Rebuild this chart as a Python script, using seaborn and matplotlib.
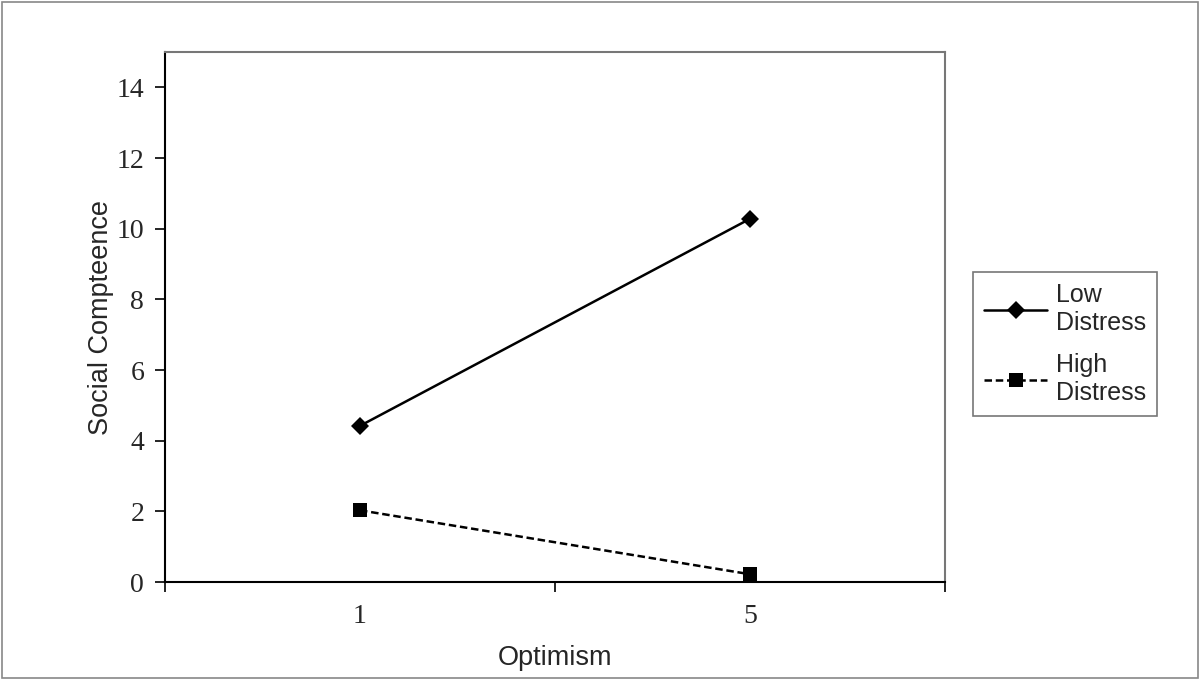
import pandas as pd
import matplotlib
matplotlib.use("Agg")
import matplotlib.pyplot as plt
import seaborn as sns

optimism = ["1", "5"]
low_distress = [4.42, 10.28]
high_distress = [2.03, 0.22]
groups = ["Low\nDistress", "High\nDistress"]

df = pd.DataFrame({
    "Optimism": optimism * 2,
    "Social Competence": low_distress + high_distress,
    "group": [groups[0]] * 2 + [groups[1]] * 2,
})

sns.set_style("white")
plt.rcParams["font.family"] = ["Liberation Sans", "DejaVu Sans"]

fig = plt.figure(figsize=(12, 6.8), dpi=100)
ax = fig.add_axes([0.1375, 0.1441, 0.65, 0.7794])

sns.lineplot(data=df, x="Optimism", y="Social Competence", style="group",
             markers={groups[0]: "D", groups[1]: "s"},
             dashes={groups[0]: "", groups[1]: (3, 1.5)},
             color="black", linewidth=1.8, markersize=9.5, markeredgewidth=0,
             ax=ax)

ax.set_xlim(-0.5, 1.5)
ax.set_ylim(0, 15)
ax.set_yticks(range(0, 15, 2))
ax.set_xticks([0, 1])
ax.set_xticks([-0.5, 0.5, 1.5], minor=True)
ax.tick_params(axis="x", which="both", bottom=True)
ax.tick_params(axis="x", which="major", length=0, pad=16)
ax.tick_params(axis="x", which="minor", direction="out", length=7, width=1.2, color="black")
ax.tick_params(axis="y", left=True, direction="out", length=7, width=1.2, color="black", pad=8)
for lbl in ax.get_xticklabels() + ax.get_yticklabels():
    lbl.set_family("Liberation Serif")
    lbl.set_fontsize(20)

ax.set_xlabel("Optimism", fontsize=19.5, labelpad=11)
ax.set_ylabel("Social Compteence", fontsize=19.5, labelpad=2)

for side in ["top", "right"]:
    ax.spines[side].set_color("#777777")
    ax.spines[side].set_linewidth(1.5)
for side in ["left", "bottom"]:
    ax.spines[side].set_color("black")
    ax.spines[side].set_linewidth(1.5)

leg = ax.legend(title=None, loc="center left", bbox_to_anchor=(1.036, 0.449),
                fontsize=18, frameon=True, fancybox=False, handlelength=2.5,
                handletextpad=0.35, labelspacing=0.75, borderpad=0.45,
                borderaxespad=0)
leg.get_frame().set_edgecolor("#555555")
leg.get_frame().set_linewidth(1.2)

fig.patches.append(plt.Rectangle((0.002, 0.003), 0.996, 0.994, transform=fig.transFigure,
                                 fill=False, edgecolor="#888888", linewidth=1.2))

fig.savefig("out.png", dpi=100)
